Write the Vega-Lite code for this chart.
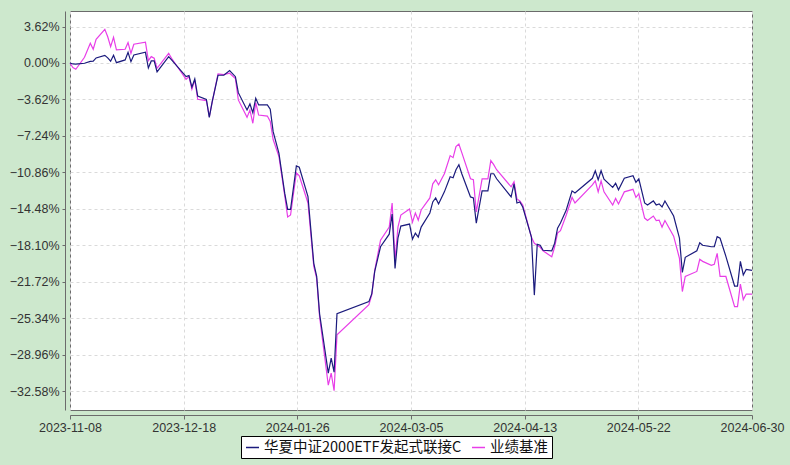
{
  "$schema": "https://vega.github.io/schema/vega-lite/v6.json",
  "autosize": {"type": "none"},
  "width": 682, "height": 399,
  "padding": {"left": 70, "top": 11, "right": 38, "bottom": 55},
  "background": "#cde8cd",
  "data": {"values": [
    {"date": "2023-11-08", "fund": 0, "bench": 0},
    {"date": "2023-11-09", "fund": -0.1, "bench": -0.45},
    {"date": "2023-11-10", "fund": -0.12, "bench": -0.63},
    {"date": "2023-11-13", "fund": -0.03, "bench": 0.56},
    {"date": "2023-11-15", "fund": 0.15, "bench": 1.95},
    {"date": "2023-11-16", "fund": 0.17, "bench": 1.36},
    {"date": "2023-11-17", "fund": 0.5, "bench": 2.35},
    {"date": "2023-11-20", "fund": 0.76, "bench": 3.34},
    {"date": "2023-11-21", "fund": 0.5, "bench": 2.6},
    {"date": "2023-11-22", "fund": 0.17, "bench": 1.62},
    {"date": "2023-11-23", "fund": 0.76, "bench": 2.55},
    {"date": "2023-11-24", "fund": 0.03, "bench": 1.29},
    {"date": "2023-11-27", "fund": 0.3, "bench": 1.36},
    {"date": "2023-11-28", "fund": 1.06, "bench": 2.02},
    {"date": "2023-11-29", "fund": 0.13, "bench": 0.96},
    {"date": "2023-11-30", "fund": 0.79, "bench": 1.86},
    {"date": "2023-12-04", "fund": 1.06, "bench": 2.06},
    {"date": "2023-12-05", "fund": -0.5, "bench": 0.23},
    {"date": "2023-12-06", "fund": 0.2, "bench": 0.63},
    {"date": "2023-12-07", "fund": 0.2, "bench": 0.47},
    {"date": "2023-12-08", "fund": -0.89, "bench": -0.53},
    {"date": "2023-12-12", "fund": 0.63, "bench": 0.96},
    {"date": "2023-12-13", "fund": 0.3, "bench": 0.47},
    {"date": "2023-12-18", "fund": -1.36, "bench": -1.62},
    {"date": "2023-12-19", "fund": -1.26, "bench": -1.36},
    {"date": "2023-12-20", "fund": -2.41, "bench": -2.61},
    {"date": "2023-12-21", "fund": -1.59, "bench": -1.69},
    {"date": "2023-12-22", "fund": -3.28, "bench": -3.61},
    {"date": "2023-12-25", "fund": -3.61, "bench": -3.74},
    {"date": "2023-12-26", "fund": -5.4, "bench": -5.33},
    {"date": "2023-12-27", "fund": -3.84, "bench": -3.9},
    {"date": "2023-12-29", "fund": -1.22, "bench": -1.09},
    {"date": "2023-12-31", "fund": -1.22, "bench": -1.16},
    {"date": "2024-01-02", "fund": -0.76, "bench": -1.02},
    {"date": "2024-01-04", "fund": -1.36, "bench": -1.55},
    {"date": "2024-01-05", "fund": -2.95, "bench": -3.67},
    {"date": "2024-01-08", "fund": -4.67, "bench": -5.4},
    {"date": "2024-01-09", "fund": -4.07, "bench": -4.67},
    {"date": "2024-01-10", "fund": -4.94, "bench": -5.99},
    {"date": "2024-01-11", "fund": -3.51, "bench": -3.94},
    {"date": "2024-01-12", "fund": -4.17, "bench": -5.17},
    {"date": "2024-01-15", "fund": -4.17, "bench": -5.27},
    {"date": "2024-01-16", "fund": -4.6, "bench": -5.8},
    {"date": "2024-01-17", "fund": -6.82, "bench": -7.6},
    {"date": "2024-01-19", "fund": -8.97, "bench": -9.3},
    {"date": "2024-01-21", "fund": -12.95, "bench": -13.2},
    {"date": "2024-01-22", "fund": -14.53, "bench": -15.3},
    {"date": "2024-01-23", "fund": -14.53, "bench": -15.1},
    {"date": "2024-01-25", "fund": -10.23, "bench": -10.9},
    {"date": "2024-01-26", "fund": -10.36, "bench": -11.2},
    {"date": "2024-01-29", "fund": -13.28, "bench": -13.9},
    {"date": "2024-01-31", "fund": -19.9, "bench": -20.2},
    {"date": "2024-02-01", "fund": -21.2, "bench": -21.4},
    {"date": "2024-02-02", "fund": -24.9, "bench": -25.2},
    {"date": "2024-02-05", "fund": -30.8, "bench": -32.0},
    {"date": "2024-02-06", "fund": -29.3, "bench": -30.8},
    {"date": "2024-02-07", "fund": -30.7, "bench": -32.55},
    {"date": "2024-02-08", "fund": -24.9, "bench": -27.0},
    {"date": "2024-02-19", "fund": -23.7, "bench": -24.0},
    {"date": "2024-02-20", "fund": -22.9, "bench": -23.0},
    {"date": "2024-02-21", "fund": -20.7, "bench": -20.6},
    {"date": "2024-02-23", "fund": -18.25, "bench": -17.6},
    {"date": "2024-02-26", "fund": -17.0, "bench": -16.3},
    {"date": "2024-02-27", "fund": -15.0, "bench": -13.9},
    {"date": "2024-02-28", "fund": -20.4, "bench": -19.6},
    {"date": "2024-02-29", "fund": -17.4, "bench": -16.3},
    {"date": "2024-03-01", "fund": -16.2, "bench": -15.1},
    {"date": "2024-03-04", "fund": -16.0, "bench": -14.5},
    {"date": "2024-03-05", "fund": -17.5, "bench": -15.8},
    {"date": "2024-03-06", "fund": -16.9, "bench": -14.9},
    {"date": "2024-03-07", "fund": -17.3, "bench": -15.6},
    {"date": "2024-03-08", "fund": -16.3, "bench": -14.6},
    {"date": "2024-03-11", "fund": -14.9, "bench": -13.4},
    {"date": "2024-03-12", "fund": -13.8, "bench": -12.0},
    {"date": "2024-03-13", "fund": -13.4, "bench": -11.6},
    {"date": "2024-03-14", "fund": -14.0, "bench": -12.1},
    {"date": "2024-03-16", "fund": -12.8, "bench": -11.0},
    {"date": "2024-03-18", "fund": -11.3, "bench": -9.2},
    {"date": "2024-03-19", "fund": -11.4, "bench": -9.4},
    {"date": "2024-03-20", "fund": -10.6, "bench": -8.3},
    {"date": "2024-03-21", "fund": -10.1, "bench": -8.05},
    {"date": "2024-03-22", "fund": -11.0, "bench": -8.9},
    {"date": "2024-03-25", "fund": -13.3, "bench": -11.5},
    {"date": "2024-03-26", "fund": -13.4, "bench": -11.6},
    {"date": "2024-03-27", "fund": -15.9, "bench": -14.8},
    {"date": "2024-03-29", "fund": -12.7, "bench": -11.5},
    {"date": "2024-03-31", "fund": -12.7, "bench": -11.5},
    {"date": "2024-04-01", "fund": -11.0, "bench": -9.7},
    {"date": "2024-04-02", "fund": -11.0, "bench": -10.1},
    {"date": "2024-04-03", "fund": -11.5, "bench": -10.6},
    {"date": "2024-04-08", "fund": -13.3, "bench": -12.3},
    {"date": "2024-04-09", "fund": -12.0, "bench": -11.8},
    {"date": "2024-04-10", "fund": -13.9, "bench": -13.5},
    {"date": "2024-04-11", "fund": -13.8, "bench": -13.7},
    {"date": "2024-04-12", "fund": -14.3, "bench": -14.1},
    {"date": "2024-04-15", "fund": -17.3, "bench": -17.3},
    {"date": "2024-04-16", "fund": -23.05, "bench": -17.9},
    {"date": "2024-04-17", "fund": -18.0, "bench": -18.1},
    {"date": "2024-04-18", "fund": -18.1, "bench": -18.3},
    {"date": "2024-04-19", "fund": -18.6, "bench": -18.65},
    {"date": "2024-04-22", "fund": -18.65, "bench": -19.25},
    {"date": "2024-04-23", "fund": -17.9, "bench": -18.25},
    {"date": "2024-04-24", "fund": -16.4, "bench": -16.9},
    {"date": "2024-04-25", "fund": -15.9, "bench": -16.65},
    {"date": "2024-04-27", "fund": -14.6, "bench": -15.1},
    {"date": "2024-04-29", "fund": -12.7, "bench": -13.35},
    {"date": "2024-04-30", "fund": -12.9, "bench": -13.9},
    {"date": "2024-05-06", "fund": -11.45, "bench": -12.1},
    {"date": "2024-05-07", "fund": -10.7, "bench": -11.7},
    {"date": "2024-05-08", "fund": -11.6, "bench": -12.8},
    {"date": "2024-05-09", "fund": -10.7, "bench": -11.7},
    {"date": "2024-05-10", "fund": -11.55, "bench": -12.8},
    {"date": "2024-05-13", "fund": -12.35, "bench": -14.1},
    {"date": "2024-05-14", "fund": -11.95, "bench": -13.45},
    {"date": "2024-05-15", "fund": -12.6, "bench": -14.0},
    {"date": "2024-05-17", "fund": -11.45, "bench": -12.8},
    {"date": "2024-05-20", "fund": -11.2, "bench": -12.55},
    {"date": "2024-05-21", "fund": -11.85, "bench": -13.35},
    {"date": "2024-05-22", "fund": -11.5, "bench": -13.0},
    {"date": "2024-05-24", "fund": -13.9, "bench": -15.4},
    {"date": "2024-05-25", "fund": -14.1, "bench": -15.65},
    {"date": "2024-05-27", "fund": -13.7, "bench": -15.2},
    {"date": "2024-05-28", "fund": -14.1, "bench": -15.65},
    {"date": "2024-05-29", "fund": -14.0, "bench": -15.6},
    {"date": "2024-05-30", "fund": -14.3, "bench": -16.3},
    {"date": "2024-05-31", "fund": -13.7, "bench": -15.65},
    {"date": "2024-06-03", "fund": -15.2, "bench": -17.2},
    {"date": "2024-06-05", "fund": -17.4, "bench": -19.4},
    {"date": "2024-06-06", "fund": -20.8, "bench": -22.7},
    {"date": "2024-06-07", "fund": -19.3, "bench": -21.2},
    {"date": "2024-06-11", "fund": -18.65, "bench": -20.7},
    {"date": "2024-06-12", "fund": -17.85, "bench": -19.5},
    {"date": "2024-06-13", "fund": -18.1, "bench": -19.7},
    {"date": "2024-06-16", "fund": -18.25, "bench": -20.1},
    {"date": "2024-06-17", "fund": -18.25, "bench": -20.0},
    {"date": "2024-06-18", "fund": -17.25, "bench": -18.9},
    {"date": "2024-06-19", "fund": -17.4, "bench": -21.2},
    {"date": "2024-06-21", "fund": -19.2, "bench": -21.2},
    {"date": "2024-06-24", "fund": -22.15, "bench": -24.2},
    {"date": "2024-06-25", "fund": -22.15, "bench": -24.2},
    {"date": "2024-06-26", "fund": -19.7, "bench": -21.95},
    {"date": "2024-06-27", "fund": -21.05, "bench": -23.5},
    {"date": "2024-06-28", "fund": -20.5, "bench": -22.95},
    {"date": "2024-06-30", "fund": -20.6, "bench": -22.95}
  ]},
  "encoding": {
    "x": {
      "field": "date", "type": "temporal",
      "scale": {"type": "utc", "domain": [1699401600000, 1719705600000]},
      "axis": {
        "title": null, "offset": 5, "tickCount": 20,
        "values": [1699401600000, 1702785600000, 1706169600000, 1709553600000, 1712937600000, 1716321600000, 1719705600000],
        "labelExpr": "utcFormat(time(datum.value) + 86399000, '%Y-%m-%d')",
        "grid": true, "gridDash": [3, 3], "gridColor": "#dadada",
        "domainColor": "#6b6b6b", "tickColor": "#6b6b6b", "tickSize": 4,
        "labelFont": "Liberation Sans", "labelFontSize": 12.5, "labelColor": "#333333",
        "labelPadding": 2, "labelOverlap": false, "labelFlush": false
      }
    }
  },
  "layer": [
    {
      "mark": {"type": "line", "strokeWidth": 1.2},
      "encoding": {
        "y": {
          "field": "bench", "type": "quantitative",
          "scale": {"domain": [-34.46, 5.16], "nice": false, "zero": false},
          "axis": {
            "title": null, "offset": 5, "tickCount": 20,
            "values": [3.62, 0, -3.62, -7.24, -10.86, -14.48, -18.1, -21.72, -25.34, -28.96, -32.58],
            "labelExpr": "format(datum.value, '.2f') + '%'",
            "grid": true, "gridDash": [3, 3], "gridColor": "#dadada",
            "domainColor": "#6b6b6b", "tickColor": "#6b6b6b", "tickSize": 3,
            "labelFont": "Liberation Sans", "labelFontSize": 12.5, "labelColor": "#333333",
            "labelPadding": 3, "labelOverlap": false
          }
        },
        "color": {"datum": "业绩基准"}
      }
    },
    {
      "mark": {"type": "line", "strokeWidth": 1.2},
      "encoding": {
        "y": {"field": "fund", "type": "quantitative"},
        "color": {
          "datum": "华夏中证2000ETF发起式联接C",
          "scale": {"domain": ["华夏中证2000ETF发起式联接C", "业绩基准"], "range": ["#1b1b7d", "#e83ee8"]},
          "legend": {
            "title": null, "orient": "none", "legendX": 171, "legendY": 425,
            "direction": "horizontal",
            "fillColor": "white", "strokeColor": "black", "padding": 4,
            "symbolType": "stroke", "symbolSize": 170, "symbolStrokeWidth": 1.5,
            "labelFont": "Noto Sans CJK SC", "labelFontSize": 14.5, "labelColor": "#111111",
            "labelOffset": 4, "columnPadding": 6, "labelLimit": 300
          }
        }
      }
    }
  ],
  "config": {
    "view": {"fill": "white", "stroke": "#6b6b6b"}
  }
}
